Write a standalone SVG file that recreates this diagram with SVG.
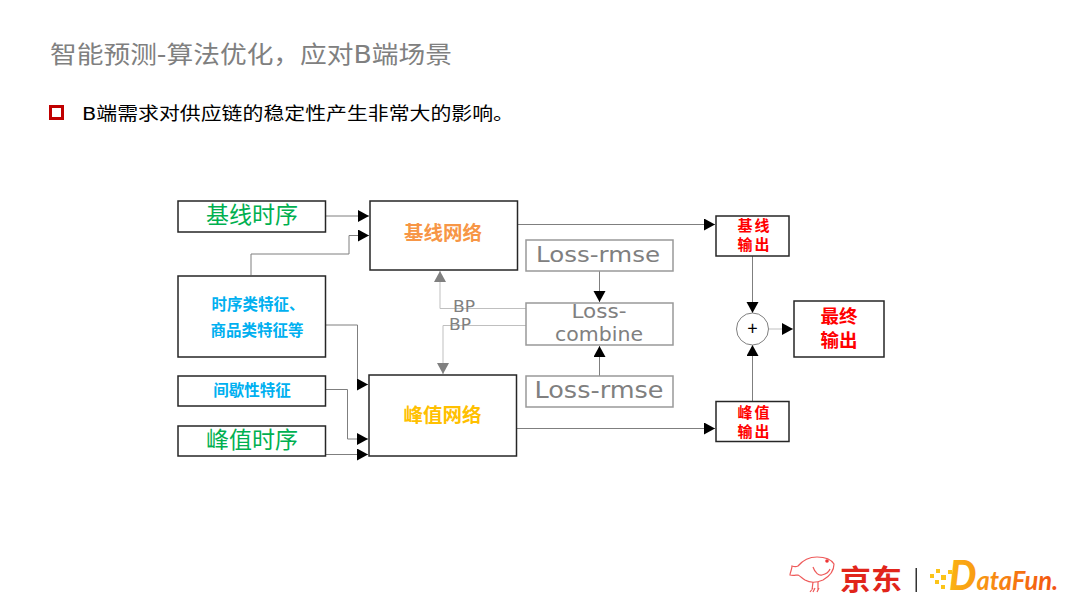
<svg xmlns="http://www.w3.org/2000/svg" width="1080" height="608" viewBox="0 0 1080 608">
<defs>
<marker id="ah" markerUnits="userSpaceOnUse" markerWidth="12" markerHeight="13" refX="11" refY="6" orient="auto"><path d="M0 0L11 6L0 12Z" fill="#000"/></marker>
<marker id="ag" markerUnits="userSpaceOnUse" markerWidth="12" markerHeight="13" refX="11" refY="6" orient="auto"><path d="M0 0L11 6L0 12Z" fill="#808080"/></marker>
<linearGradient id="df" gradientUnits="userSpaceOnUse" x1="945" y1="0" x2="1058" y2="0"><stop offset="0" stop-color="#fbb714"/><stop offset="1" stop-color="#f2500f"/></linearGradient>
</defs>
<style>
text{font-family:"Noto Sans CJK SC","Noto Sans",sans-serif;text-anchor:middle}
.head{font-family:"DejaVu Sans","Noto Sans CJK SC",sans-serif;text-anchor:start}
.b{fill:#fff;stroke:#262626;stroke-width:1.5}
.g{fill:#fff;stroke:#999;stroke-width:1.5}
.c{fill:none;stroke:#7f7f7f;stroke-width:1}
.l{fill:none;stroke:#bfbfbf;stroke-width:1}
.h{marker-end:url(#ah)}
.gh{marker-end:url(#ag)}
.green{fill:#00b050;font-size:23px}
.blue{fill:#00b0f0;font-size:15.500px;font-weight:700}
.red{fill:#f00;font-weight:700}
.loss{fill:#808080;font-family:"DejaVu Sans",sans-serif}
.bp{fill:#808080;font-family:"DejaVu Sans",sans-serif;font-size:15px}
</style>
<rect width="1080" height="608" fill="#fff"/>
<text id="title" class="head" x="50" y="63" style="font-size:24px;fill:#808080" textLength="402" lengthAdjust="spacingAndGlyphs">智能预测-算法优化，应对B端场景</text>
<rect x="50.500" y="106.500" width="12" height="12" fill="none" stroke="#c00000" stroke-width="3"/>
<text id="subtitle" class="head" x="82" y="120" style="font-size:18px;fill:#000" textLength="432" lengthAdjust="spacingAndGlyphs">B端需求对供应链的稳定性产生非常大的影响。</text>

<g id="connectors">
<path class="c h" d="M326 216H369"/>
<path class="c" d="M251 275V254H349"/><path class="c h" d="M349 254V235.500H369"/>
<path class="c h" d="M326 325H357.500V384.500H368"/>
<path class="c h" d="M326 389.500H347.500V439H368"/>
<path class="c h" d="M326 454.500H368"/>
<path class="c h" d="M517 224.500H715"/>
<path class="c h" d="M517 428.500H715"/>
<path class="c h" d="M599.500 271V302"/>
<path class="c h" d="M599.500 376V346"/>
<path class="l gh" d="M526 308.500H440V271"/>
<path class="l gh" d="M526 325.500H443V374"/>
<path class="c h" d="M752.500 256V313"/>
<path class="c h" d="M752.500 401V345"/>
<path class="l h" d="M769 329H793"/>
</g>

<g id="n-base-seq"><rect class="b" x="178" y="201" width="147.500" height="31"/><text class="green" x="252" y="223">基线时序</text></g>
<g id="n-base-net"><rect class="b" x="370" y="201" width="147.500" height="69"/><text x="443" y="240" style="font-size:19.500px;font-weight:700;fill:#f79646">基线网络</text></g>
<g id="n-feat"><rect class="b" x="178" y="276" width="147.500" height="81"/><text class="blue" x="258" y="310">时序类特征、</text><text class="blue" x="257" y="336">商品类特征等</text></g>
<g id="n-inter"><rect class="b" x="178" y="376" width="147.500" height="30"/><text class="blue" x="252" y="396">间歇性特征</text></g>
<g id="n-peak-seq"><rect class="b" x="178" y="426" width="147.500" height="30"/><text class="green" x="252" y="448">峰值时序</text></g>
<g id="n-peak-net"><rect class="b" x="369" y="375" width="147.500" height="81"/><text x="442.500" y="422" style="font-size:19.500px;font-weight:700;fill:#ffc000">峰值网络</text></g>
<g id="n-loss1"><rect class="g" x="526" y="240" width="147" height="31"/><text class="loss" x="598" y="262" style="font-size:22px" textLength="124" lengthAdjust="spacingAndGlyphs">Loss-rmse</text></g>
<g id="n-comb"><rect class="g" x="526" y="303" width="147" height="42"/><text class="loss" x="599" y="318" style="font-size:20px" textLength="55" lengthAdjust="spacingAndGlyphs">Loss-</text><text class="loss" x="599" y="341" style="font-size:20px" textLength="88" lengthAdjust="spacingAndGlyphs">combine</text></g>
<g id="n-loss2"><rect class="g" x="526" y="376" width="147" height="31"/><text class="loss" x="599" y="398" style="font-size:23px" textLength="129" lengthAdjust="spacingAndGlyphs">Loss-rmse</text></g>
<text class="bp" x="464" y="312" textLength="22" lengthAdjust="spacingAndGlyphs">BP</text>
<text class="bp" x="460" y="330" textLength="22" lengthAdjust="spacingAndGlyphs">BP</text>
<g id="n-base-out"><rect class="b" x="716" y="216" width="73" height="40"/><text class="red" x="753.500" y="230.500" style="font-size:15px" textLength="32">基线</text><text class="red" x="753.500" y="250" style="font-size:15px" textLength="32">输出</text></g>
<g id="n-peak-out"><rect class="b" x="716" y="401.500" width="73" height="40"/><text class="red" x="753.500" y="417.500" style="font-size:15px" textLength="32">峰值</text><text class="red" x="753.500" y="437" style="font-size:15px" textLength="32">输出</text></g>
<g id="n-sum"><circle cx="752.500" cy="329" r="16" fill="#fff" stroke="#7f7f7f"/><text x="752.500" y="335" style="font-size:18px;fill:#000">+</text></g>
<g id="n-final"><rect class="b" x="794" y="301" width="90" height="56"/><text class="red" x="839" y="323" style="font-size:18.500px">最终</text><text class="red" x="839" y="347" style="font-size:18.500px">输出</text></g>

<g id="logo">
<g fill="none" stroke="#ee5a5a" stroke-width="1.200">
<path d="M792 566C795 567 796 567 798 566C803 560 810 557 817 557C824 557 831 559 834 564C834 570 830 576 823 580C816 583 810 583 805 580C802 578 800 576 798 575C796 575 793 576 790 575C790 572 792 570 792 566Z"/>
<path d="M813 567C815 573 819 576 822 575C826 574 829 572 830 569"/>
<path d="M813 582L812 590M818 582L818 590M810 592L813 588M813 592L815 588M817 592L819 588"/>
</g>
<circle cx="827" cy="561" r="1.800" fill="#e33"/>
<text x="871" y="590" style="font-size:28px;font-weight:700;fill:#e1251b" textLength="62" lengthAdjust="spacingAndGlyphs">京东</text>
<rect x="915.500" y="568" width="1.500" height="24" fill="#333"/>
<g fill="#fcc419"><rect x="930" y="574" width="4" height="4"/><rect x="936" y="569" width="4" height="4"/><rect x="935" y="580" width="4" height="4"/><rect x="941" y="575" width="5" height="5"/><rect x="941" y="585" width="4" height="4"/><rect x="948" y="570" width="4" height="4"/></g>
<text x="949" y="590" style="text-anchor:start;font-family:'Lato',sans-serif;font-style:italic;font-weight:700;font-size:27px;fill:url(#df)" textLength="109" lengthAdjust="spacingAndGlyphs"><tspan style="font-size:41px;font-weight:900">D</tspan>ataFun.</text>
</g>
</svg>
